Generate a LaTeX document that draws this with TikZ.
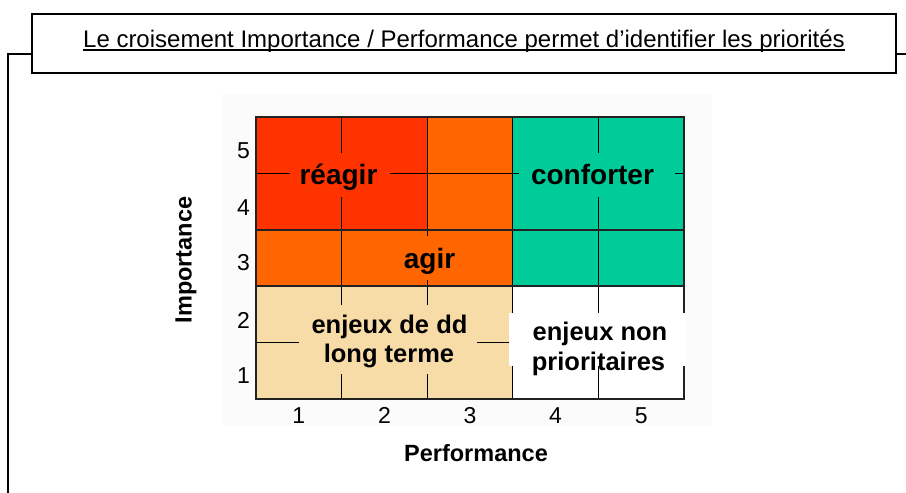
\documentclass[tikz,border=0pt]{standalone}
\usepackage{fontspec}
\setmainfont{Liberation Sans}
\definecolor{cRed}{HTML}{FF3300}
\definecolor{cOrange}{HTML}{FF6600}
\definecolor{cGreen}{HTML}{00CC99}
\definecolor{cBeige}{HTML}{F8DCA8}
\definecolor{cBg}{HTML}{FBFBFB}
\definecolor{cLine}{HTML}{222222}
\tikzset{
  frameline/.style={line width=2pt, black},
  gridthin/.style={line width=1.1pt, black},
  gridthick/.style={line width=1.6pt, cLine},
  zonelabel/.style={font=\fontsize{28}{30}\selectfont\bfseries, anchor=base, inner sep=0pt},
  zonelabelsm/.style={font=\fontsize{25.5}{28}\selectfont\bfseries, anchor=base, inner sep=0pt},
  ticklabel/.style={font=\fontsize{23}{26}\selectfont, anchor=base, inner sep=0pt},
  axistitle/.style={font=\fontsize{23.5}{26}\selectfont\bfseries, inner sep=0pt}
}
\begin{document}
\begin{tikzpicture}[x=1pt,y=-1pt]
\useasboundingbox (0,0) rectangle (906,493);
\fill[white] (0,0) rectangle (906,493);
% outer frame
\draw[frameline] (8,494) -- (8,54) -- (32,54);
\draw[frameline] (896,54) -- (907,54);
% title box
\node[draw, line width=2pt, fill=white, minimum width=864pt, minimum height=59pt, inner sep=0pt] (tbox) at (464,43.5) {};
\node[font=\fontsize{24}{28}\selectfont, anchor=base, inner sep=0pt] (title) at (464,47) {Le croisement Importance / Performance permet d’identifier les priorités};
\draw[line width=1.6pt] ([yshift=-3.2pt]title.base west) -- ([yshift=-3.2pt]title.base east);
% chart background
\fill[cBg] (223,93) rectangle (712,425);
% zone fills
\fill[cRed] (256,117) rectangle (427.2,229.8);
\fill[cOrange] (427.2,117) rectangle (512.8,229.8);
\fill[cOrange] (256,229.8) rectangle (512.8,286.2);
\fill[cGreen] (512.8,117) rectangle (684,286.2);
\fill[cBeige] (256,286.2) rectangle (512.8,399);
\fill[white] (512.8,286.2) rectangle (684,399);
% grid
\foreach \gx in {341.6,427.2,512.8,598.4} \draw[gridthin] (\gx,117) -- (\gx,399);
\foreach \gy in {173.4,342.6} \draw[gridthin] (256,\gy) -- (684,\gy);
\foreach \gy in {229.8,286.2} \draw[gridthick] (256,\gy) -- (684,\gy);
\draw[gridthick] (256,117) rectangle (684,399);
% label backgrounds
\fill[cRed] (290,153) rectangle (390,197);
\fill[cGreen] (519,153) rectangle (675,197);
\fill[cOrange] (393,236) rectangle (466,280);
\fill[cBeige] (299,305) rectangle (477,374);
\fill[white] (509,313) rectangle (686,366);
% zone labels
\node[zonelabel] (reagir) at (338.5,184) {réagir};
\node[zonelabel] (conforter) at (592.5,184) {conforter};
\node[zonelabel] (agir) at (429.5,268) {agir};
\node[zonelabelsm] (enjdd1) at (389.5,333) {enjeux de dd};
\node[zonelabelsm] (enjdd2) at (389,362) {long terme};
\node[zonelabelsm] (enjnon1) at (600,340) {enjeux non};
\node[zonelabelsm] (enjnon2) at (598.5,370) {prioritaires};
% tick labels
\node[ticklabel] (y5) at (243.5,158) {5};
\node[ticklabel] (y4) at (243.5,215) {4};
\node[ticklabel] (y3) at (243.5,270) {3};
\node[ticklabel] (y2) at (243.5,328) {2};
\node[ticklabel] (y1) at (243.5,383) {1};
\node[ticklabel] (x1) at (298.8,423) {1};
\node[ticklabel] (x2) at (384.4,423) {2};
\node[ticklabel] (x3) at (470,423) {3};
\node[ticklabel] (x4) at (555.6,423) {4};
\node[ticklabel] (x5) at (641.2,423) {5};
% axis titles
\node[axistitle, rotate=90] (imp) at (186,260) {Importance};
\node[axistitle] (perf) at (476,453) {Performance};
\end{tikzpicture}
\end{document}
